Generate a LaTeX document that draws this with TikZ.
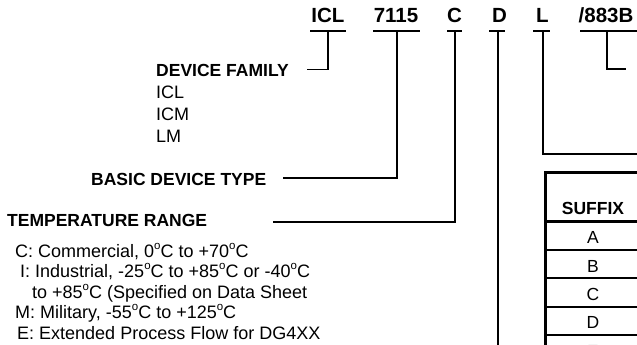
\documentclass[tikz,border=0pt]{standalone}
\usepackage{fontspec}
\setmainfont{Liberation Sans}
\newcommand\degsup{\raisebox{0.42em}{\fontsize{11.5}{11.5}\selectfont o}}
\begin{document}
\begin{tikzpicture}[x=1pt,y=-1pt,
  hdr/.style={font=\fontsize{20.5}{22}\selectfont\bfseries, inner sep=0pt, anchor=base},
  lbl/.style={font=\fontsize{17.5}{20}\selectfont\bfseries, inner sep=0pt, anchor=base west},
  txt/.style={font=\fontsize{18}{20}\selectfont, inner sep=0pt, anchor=base west},
  cell/.style={font=\fontsize{17.5}{20}\selectfont, inner sep=0pt, anchor=base},
  uline/.style={line width=1.4pt},
  conn/.style={line width=1.4pt},
  thick border/.style={line width=3pt},
  row line/.style={line width=2pt}]
\clip (0,0) rectangle (637,345);
\fill[white] (0,0) rectangle (637,345);

% header
\node[hdr] (hicl) at (328,23) {ICL};
\node[hdr] (h7115) at (396,23) {7115};
\node[hdr] (hc) at (454.5,23) {C};
\node[hdr] (hd) at (499.5,23) {D};
\node[hdr] (hl) at (542.5,23) {L};
\node[hdr] (h883) at (606,23) {/883B};

% underlines
\draw[uline] (310,31) -- (346,31);
\draw[uline] (373,31) -- (420,31);
\draw[uline] (447,31) -- (462,31);
\draw[uline] (489,31) -- (505,31);
\draw[uline] (533,31) -- (550,31);
\draw[uline] (580,31) -- (640,31);

% coordinates on underlines
\coordinate (uicl) at (328,31);
\coordinate (u7115) at (397,31);
\coordinate (uc) at (455,31);
\coordinate (ud) at (498,31);
\coordinate (ul) at (543,31);
\coordinate (u883) at (607,31);

% left labels
\node[lbl] (devfam) at (156,77) {DEVICE FAMILY};
\node[txt] (ficl) at (156,99) {ICL};
\node[txt] (ficm) at (156,120.5) {ICM};
\node[txt] (flm) at (156,142) {LM};

\node[lbl] (basic) at (91,185) {BASIC DEVICE TYPE};

\node[lbl] (temp) at (7,226) {TEMPERATURE RANGE};
\node[txt] (tc) at (15,257) {C: Commercial, 0\degsup C to +70\degsup C};
\node[txt] (ti) at (20,277.5) {I: Industrial, -25\degsup C to +85\degsup C or -40\degsup C};
\node[txt] (ti2) at (32,298) {to +85\degsup C (Specified on Data Sheet};
\node[txt] (tm) at (15,318.5) {M: Military, -55\degsup C to +125\degsup C};
\node[txt] (te) at (17,339) {E: Extended Process Flow for DG4XX};

% connector ends
\coordinate (edevfam) at (307,69.5);
\coordinate (ebasic) at (283,178);
\coordinate (etemp) at (273,222);
\coordinate (ed) at (498,350);
\coordinate (el) at (640,154);
\coordinate (e883) at (626,69);

\draw[conn] (uicl) |- (edevfam);
\draw[conn] (u7115) |- (ebasic);
\draw[conn] (uc) |- (etemp);
\draw[conn] (ud) -- (ed);
\draw[conn] (ul) |- (el);
\draw[conn] (u883) |- (e883);

% suffix table
\draw[thick border] (545,360) -- (545,172) -- (645,172);
\draw[thick border] (545,221) -- (645,221);
\foreach \yy in {250,278,307,335} \draw[row line] (545,\yy) -- (645,\yy);
\node[lbl, anchor=base] (suffix) at (593,214) {SUFFIX};
\node[cell] (sa) at (593,243) {A};
\node[cell] (sb) at (593,272) {B};
\node[cell] (scc) at (593,300) {C};
\node[cell] (sd) at (593,328) {D};
\node[cell] (se) at (593,357) {E};
\end{tikzpicture}
\end{document}
